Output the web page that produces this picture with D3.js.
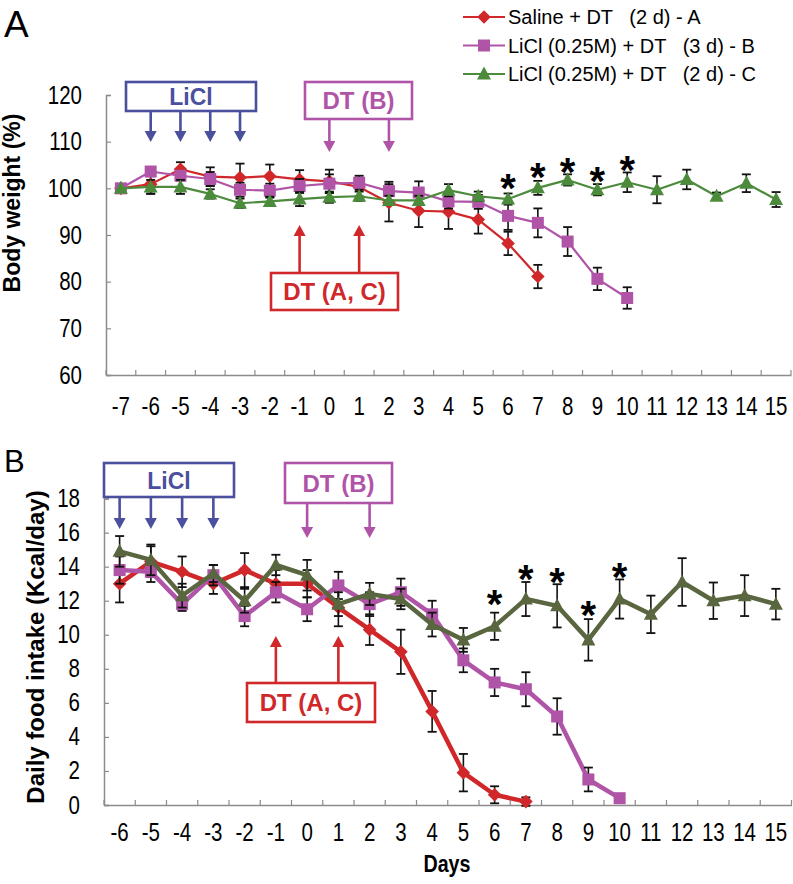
<!DOCTYPE html>
<html><head><meta charset="utf-8">
<script src="https://cdn.jsdelivr.net/npm/d3@7"></script>
<style>body{margin:0;background:#fff}svg{display:block}</style>
</head><body><svg id="c" width="793" height="884"></svg>
<script>
// ---------- DATA ----------
const topDays = [-7,-6,-5,-4,-3,-2,-1,0,1,2,3,4,5,6,7,8,9,10,11,12,13,14,15];
const topYTicks = [60,70,80,90,100,110,120];
const weightA = [100,100.9,104.1,102.5,102.3,102.6,101.9,101.5,100.3,96.9,95.2,95.0,93.3,88.2,81.1];
const weightAErr = [0,2,1.5,2,3,2.5,2,2.5,2,4,3.5,3.7,3,2.5,2.5];
const weightB = [100,103.6,102.7,102.0,99.7,99.5,100.5,101.0,101.2,99.4,99.1,97.2,97.1,94.1,92.6,88.6,80.6,76.5];
const weightBErr = [0,1,1,1.5,1.5,1.5,1.5,2,1.5,2,2.4,1.5,1.5,3,3.1,3.1,2.4,2.3];
const weightC = [100,100.3,100.3,98.8,96.8,97.2,97.7,98.1,98.3,97.4,97.4,99.6,98.3,97.7,100.1,101.8,99.7,101.3,99.7,101.9,98.3,101.1,97.6];
const weightCErr = [0,1.5,1.5,1,1,1,1.5,1.2,1,1,1,1.3,1,1.2,1.5,1.2,1.2,2.1,2.9,2.1,0.8,1.9,1.6];
const topStarDays = [6,7,8,9,10];
const topStarVals = [102.1,104.3,105.4,103.6,105.9];

const botDays = [-6,-5,-4,-3,-2,-1,0,1,2,3,4,5,6,7,8,9,10,11,12,13,14,15];
const botYTicks = [0,2,4,6,8,10,12,14,16,18];
const foodA = [13.0,14.3,13.7,13.0,13.8,13.0,13.0,11.6,10.3,9.0,5.5,1.9,0.6,0.2];
const foodAErr = [1.1,0.9,0.9,0.6,1.0,0.8,0.8,1.1,0.9,1.3,1.2,1.1,0.5,0.25];
const foodB = [13.8,13.7,11.8,13.5,11.1,12.5,11.5,12.9,11.8,12.5,11.2,8.5,7.2,6.8,5.2,1.5,0.4];
const foodBErr = [0.8,0.6,0.4,0.6,0.6,0.6,0.7,0.8,0.7,0.8,0.8,0.7,0.8,1.0,1.07,0.7,0];
const foodC = [14.9,14.4,12.3,13.6,12.0,14.1,13.5,11.8,12.4,12.1,10.6,9.7,10.5,12.1,11.7,9.7,12.1,11.2,13.1,12.0,12.3,11.8];
const foodCErr = [0.9,0.9,0.7,0.5,0.7,0.6,0.9,0.7,0.65,0.6,0.7,0.7,0.8,1.0,1.27,1.22,1.15,1.1,1.4,1.07,1.2,0.9];
const botStarDays = [6,7,8,9,10];
const botStarVals = [12.35,13.8,13.6,11.7,13.9];

const legendLabels = ["Saline + DT   (2 d) - A","LiCl (0.25M) + DT   (3 d) - B","LiCl (0.25M) + DT   (2 d) - C"];
const liclDays = [-6,-5,-4,-3];
const dtBDays = [0,2];
const dtACDays = [-1,1];

// ---------- STYLE ----------
const RED = "#d0282a", MAG = "#b054a8", GRN = "#4b8b3b", OLV = "#596640", BLUE = "#4a4f9e", AXIS = "#8c8c8c";
const SANS = "'Liberation Sans',Arial,sans-serif";
const NS = 0.82; // horizontal squeeze to mimic a narrow face

const svg = d3.select("#c");

function marker(g, type, color, x, y) {
  if (type === "diamond") g.append("path").attr("d", `M${x},${y-6.8}L${x+6.8},${y}L${x},${y+6.8}L${x-6.8},${y}Z`).attr("fill", color);
  else if (type === "square") g.append("rect").attr("x", x-6).attr("y", y-6).attr("width", 12).attr("height", 12).attr("fill", color);
  else g.append("path").attr("d", `M${x},${y-7.5}L${x+7},${y+5.5}L${x-7},${y+5.5}Z`).attr("fill", color);
}

function panel(cfg) {
  const g = svg.append("g");
  const x = d3.scaleBand().domain(cfg.days).range(cfg.xRange).padding(0);
  const y = d3.scaleLinear().domain(cfg.yDomain).range(cfg.yRange);
  const cx = d => x(d) + x.bandwidth()/2;
  // axes
  const ya = g.append("g").attr("transform", `translate(${cfg.xRange[0]},0)`)
    .call(d3.axisLeft(y).tickValues(cfg.yTicks).tickSize(-5).tickPadding(24));
  ya.select(".domain").attr("stroke", AXIS).attr("stroke-width", 1.5);
  ya.selectAll(".tick line").attr("stroke", AXIS).attr("stroke-width", 1.2);
  ya.selectAll("text").attr("font-family", SANS).attr("font-size", 25).attr("fill", "#000")
    .attr("x", -24 / NS).attr("transform", `scale(${NS},1)`);
  const xa = g.append("g").attr("transform", `translate(0,${cfg.yRange[0]})`)
    .call(d3.axisBottom(x).tickSize(0).tickPadding(cfg.xLabelPad));
  xa.select(".domain").attr("stroke", AXIS).attr("stroke-width", 1.5);
  xa.selectAll("text").attr("font-family", SANS).attr("font-size", 25).attr("fill", "#000")
    .attr("transform", `scale(${NS},1)`);
  const edges = cfg.days.map(d => x(d)).concat([cfg.xRange[1]]);
  g.selectAll(".xt").data(edges).enter().append("line")
    .attr("x1", d => d).attr("x2", d => d).attr("y1", cfg.yRange[0]).attr("y2", cfg.yRange[0]-5)
    .attr("stroke", AXIS).attr("stroke-width", 1.2);
  // series
  cfg.series.forEach(s => {
    const pts = s.vals.map((v,i) => ({d: cfg.days[i], v, e: s.err[i]}));
    g.append("path").datum(pts)
      .attr("d", d3.line().x(p => cx(p.d)).y(p => y(p.v)))
      .attr("fill", "none").attr("stroke", s.color).attr("stroke-width", cfg.lw).attr("stroke-linejoin", "round");
    pts.forEach(p => {
      if (p.e > 0) {
        const x0 = cx(p.d), y1 = y(p.v + p.e), y2 = y(p.v - p.e);
        g.append("line").attr("x1", x0).attr("x2", x0).attr("y1", y1).attr("y2", y2).attr("stroke", "#111").attr("stroke-width", 1.6);
        [y1, y2].forEach(yy => g.append("line").attr("x1", x0-4.5).attr("x2", x0+4.5).attr("y1", yy).attr("y2", yy).attr("stroke", "#111").attr("stroke-width", 1.8));
      }
    });
    pts.forEach(p => marker(g, s.type, s.color, cx(p.d), y(p.v)));
  });
  // stars
  cfg.starDays.forEach((d,i) => {
    g.append("text").attr("x", cx(d)).attr("y", y(cfg.starVals[i]) + 23).attr("text-anchor", "middle")
      .attr("font-family", SANS).attr("font-weight", "bold").attr("font-size", 40).text("*");
  });
  // annotation boxes
  cfg.boxes.forEach(b => {
    g.append("rect").attr("x", b.x0).attr("y", b.y0).attr("width", b.x1-b.x0).attr("height", b.y1-b.y0)
      .attr("fill", "#fff").attr("stroke", b.color).attr("stroke-width", 2.6);
    g.append("text").attr("x", (b.x0+b.x1)/2).attr("y", (b.y0+b.y1)/2 + 8.5).attr("text-anchor", "middle")
      .attr("font-family", SANS).attr("font-weight", "bold").attr("font-size", b.fs).attr("fill", b.color).text(b.label);
    b.days.forEach(d => {
      const ax = cx(d);
      const base = b.down ? b.y1 : b.y0;
      const tip = b.tip;
      const head = b.down ? tip - 11 : tip + 11;
      g.append("line").attr("x1", ax).attr("x2", ax).attr("y1", base).attr("y2", head).attr("stroke", b.color).attr("stroke-width", 2.6);
      g.append("path").attr("d", `M${ax},${tip}L${ax+6},${head}L${ax-6},${head}Z`).attr("fill", b.color);
    });
  });
  // y title
  g.append("text").attr("transform", `translate(${cfg.titleX},${cfg.titleY}) rotate(-90)`).attr("text-anchor", "middle")
    .attr("font-family", SANS).attr("font-weight", "bold").attr("font-size", cfg.titleFs).text(cfg.title);
  return {x, y, cx};
}

panel({
  days: topDays, xRange: [106, 791], yDomain: [60,120], yRange: [375, 95], yTicks: topYTicks, xLabelPad: 22, lw: 2.2,
  series: [
    {vals: weightA, err: weightAErr, color: RED, type: "diamond"},
    {vals: weightB, err: weightBErr, color: MAG, type: "square"},
    {vals: weightC, err: weightCErr, color: GRN, type: "triangle"}
  ],
  starDays: topStarDays, starVals: topStarVals,
  boxes: [
    {label: "LiCl", color: BLUE, x0: 126, x1: 256, y0: 82, y1: 111, down: true, tip: 142, days: liclDays, fs: 23},
    {label: "DT (B)", color: MAG, x0: 305, x1: 412, y0: 82, y1: 119, down: true, tip: 152, days: dtBDays, fs: 24},
    {label: "DT (A, C)", color: RED, x0: 271, x1: 398, y0: 273, y1: 310, down: false, tip: 225, days: dtACDays, fs: 24}
  ],
  title: "Body weight (%)", titleX: 20, titleY: 203, titleFs: 23
});

panel({
  days: botDays, xRange: [104, 791.5], yDomain: [0,18], yRange: [805, 498.6], yTicks: botYTicks, xLabelPad: 18, lw: 4.5,
  series: [
    {vals: foodA, err: foodAErr, color: RED, type: "diamond"},
    {vals: foodB, err: foodBErr, color: MAG, type: "square"},
    {vals: foodC, err: foodCErr, color: OLV, type: "triangle"}
  ],
  starDays: botStarDays, starVals: botStarVals,
  boxes: [
    {label: "LiCl", color: BLUE, x0: 104, x1: 234, y0: 463, y1: 497, down: true, tip: 529, days: liclDays, fs: 23},
    {label: "DT (B)", color: MAG, x0: 285, x1: 392, y0: 463, y1: 503, down: true, tip: 538, days: dtBDays, fs: 24},
    {label: "DT (A, C)", color: RED, x0: 247, x1: 375, y0: 683, y1: 722, down: false, tip: 636, days: dtACDays, fs: 24}
  ],
  title: "Daily food intake (Kcal/day)", titleX: 44, titleY: 647, titleFs: 24
});

// panel letters
svg.append("text").attr("x", 4).attr("y", 37).attr("font-family", SANS).attr("font-size", 37).text("A");
svg.append("text").attr("x", 4).attr("y", 472).attr("font-family", SANS).attr("font-size", 31).text("B");
// x title
svg.append("text").attr("x", 447 / NS).attr("y", 872).attr("transform", `scale(${NS},1)`).attr("text-anchor", "middle")
  .attr("font-family", SANS).attr("font-weight", "bold").attr("font-size", 24).text("Days");

// legend
const legTypes = ["diamond","square","triangle"], legColors = [RED, MAG, GRN];
legendLabels.forEach((t,i) => {
  const yy = 17 + i*28.5;
  const lg = svg.append("g");
  lg.append("line").attr("x1", 463).attr("x2", 505).attr("y1", yy).attr("y2", yy).attr("stroke", legColors[i]).attr("stroke-width", 2.2);
  marker(lg, legTypes[i], legColors[i], 484, yy);
  lg.append("text").attr("x", 508).attr("y", yy + 7).attr("font-family", SANS).attr("font-size", 20)
    .style("white-space", "pre").text(t);
});
</script></body></html>
